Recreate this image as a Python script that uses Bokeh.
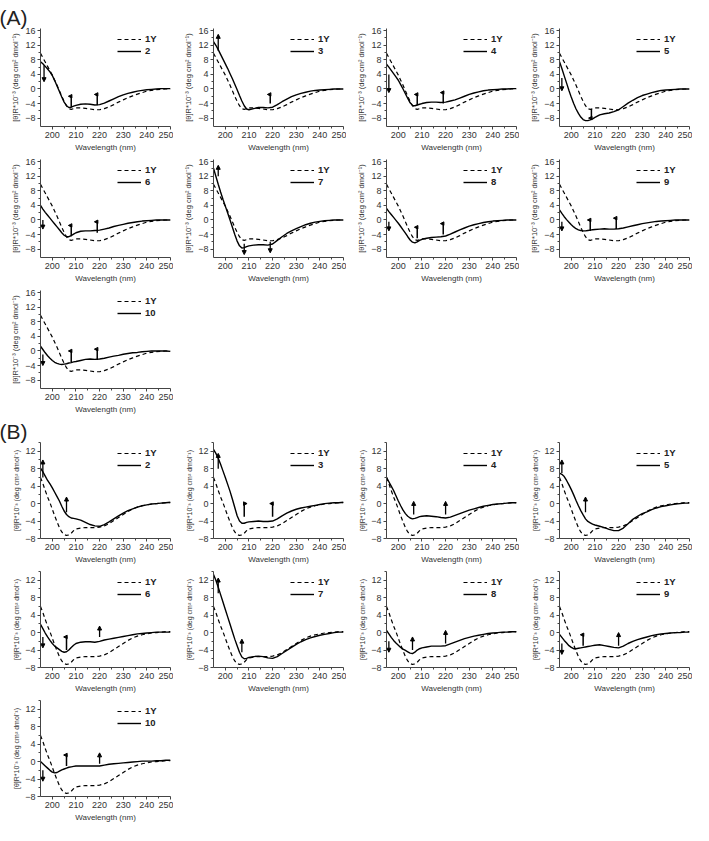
from bokeh.plotting import figure
from bokeh.layouts import column, row
from bokeh.models import Legend, LegendItem, Range1d, FixedTicker, Arrow, NormalHead
from bokeh.embed import file_html
from bokeh.resources import INLINE

# ---------------- data ----------------
wavelength = [195, 196, 197, 198, 199, 200, 201, 202, 203, 204, 205, 206, 207, 208, 209, 210,
              212, 214, 216, 218, 220, 222, 224, 226, 228, 230, 232, 234, 236, 238, 240, 242,
              244, 246, 248, 250]

# reference peptide 1Y, set (A)
ref_A = [9.8, 8.6, 7.4, 6.2, 5.0, 3.8, 2.4, 1.0, -0.5, -2.0, -3.4, -4.6, -5.4, -5.6, -5.4, -5.2,
         -5.2, -5.3, -5.5, -5.7, -5.7, -5.4, -4.9, -4.3, -3.6, -3.0, -2.4, -1.9, -1.4, -1.0, -0.6, -0.4,
         -0.2, -0.1, 0.0, 0.0]
# reference peptide 1Y, set (B)
ref_B = [6.0, 4.6, 3.0, 1.5, 0.2, -1.3, -2.8, -4.2, -5.5, -6.5, -7.1, -7.3, -7.2, -6.8, -6.2, -5.8,
         -5.6, -5.5, -5.5, -5.5, -5.4, -5.1, -4.6, -3.9, -3.2, -2.5, -1.8, -1.2, -0.8, -0.5, -0.3, -0.1,
         0.0, 0.1, 0.2, 0.2]

a2 = [7.5, 6.9, 6.2, 5.5, 4.7, 3.7, 2.3, 0.8, -0.7, -2.2, -3.6, -4.6, -5.1, -5.0, -4.7, -4.5,
      -4.2, -4.1, -4.2, -4.4, -4.3, -3.9, -3.3, -2.7, -2.1, -1.6, -1.2, -0.9, -0.6, -0.4, -0.2, -0.1,
      0.0, 0.1, 0.1, 0.1]
a3 = [13.0, 12.0, 10.8, 9.5, 8.2, 6.9, 5.6, 4.2, 2.8, 1.3, -0.2, -1.8, -3.3, -4.6, -5.5, -5.7,
      -5.4, -5.1, -5.1, -5.2, -5.0, -4.3, -3.5, -2.8, -2.1, -1.6, -1.2, -0.9, -0.6, -0.4, -0.3, -0.2,
      -0.1, 0.0, 0.0, 0.0]
a4 = [6.8, 6.0, 5.1, 4.2, 3.3, 2.4, 1.2, 0.0, -1.3, -2.6, -3.8, -4.5, -4.6, -4.4, -4.2, -4.0,
      -3.7, -3.6, -3.6, -3.7, -3.6, -3.3, -3.0, -2.5, -2.0, -1.5, -1.1, -0.8, -0.5, -0.3, -0.2, -0.1,
      0.0, 0.0, 0.1, 0.1]
a5 = [7.5, 5.6, 3.6, 1.6, -0.4, -2.3, -4.0, -5.5, -6.7, -7.7, -8.4, -8.7, -8.7, -8.5, -8.2, -7.8,
      -7.1, -6.8, -6.6, -6.2, -5.7, -4.8, -3.9, -3.1, -2.4, -1.8, -1.4, -1.0, -0.7, -0.4, -0.3, -0.2,
      -0.1, 0.0, 0.0, 0.0]
a6 = [4.0, 3.0, 2.1, 1.3, 0.5, -0.3, -1.1, -1.9, -2.7, -3.5, -4.2, -4.6, -4.6, -4.3, -3.9, -3.5,
      -3.1, -3.0, -3.0, -2.9, -2.8, -2.5, -2.2, -1.8, -1.5, -1.2, -0.9, -0.7, -0.5, -0.3, -0.2, -0.1,
      0.0, 0.0, 0.0, 0.0]
a7 = [14.2, 12.0, 9.8, 7.7, 5.7, 3.8, 1.9, 0.0, -2.0, -4.0, -5.8, -7.1, -7.7, -7.6, -7.3, -7.1,
      -6.9, -6.8, -6.8, -6.9, -6.6, -5.6, -4.6, -3.7, -3.0, -2.4, -1.8, -1.3, -0.9, -0.6, -0.4, -0.2,
      -0.1, 0.0, 0.0, 0.0]
a8 = [3.2, 2.3, 1.5, 0.7, -0.1, -0.9, -1.8, -2.7, -3.6, -4.6, -5.5, -6.1, -6.3, -6.0, -5.6, -5.3,
      -5.0, -4.8, -4.7, -4.6, -4.4, -3.9, -3.3, -2.7, -2.2, -1.7, -1.3, -1.0, -0.7, -0.5, -0.3, -0.2,
      -0.1, 0.0, 0.0, 0.0]
a9 = [2.8, 1.8, 0.9, 0.1, -0.6, -1.3, -1.9, -2.4, -2.7, -2.9, -3.0, -3.0, -2.9, -2.8, -2.7, -2.6,
      -2.5, -2.4, -2.5, -2.5, -2.4, -2.2, -1.9, -1.6, -1.3, -1.0, -0.8, -0.6, -0.4, -0.3, -0.2, -0.1,
      0.0, 0.0, 0.0, 0.0]
a10 = [1.3, 0.4, -0.5, -1.3, -2.0, -2.6, -3.1, -3.4, -3.6, -3.7, -3.6, -3.5, -3.3, -3.2, -3.0, -2.9,
       -2.6, -2.3, -2.2, -2.3, -2.2, -2.0, -1.7, -1.4, -1.2, -0.9, -0.7, -0.5, -0.4, -0.2, -0.1, 0.0,
       0.0, 0.0, 0.0, -0.1]

b2 = [8.1, 7.3, 6.3, 5.3, 4.5, 3.6, 2.6, 1.6, 0.6, -0.6, -1.7, -2.5, -3.0, -3.3, -3.4, -3.5,
      -3.8, -4.3, -4.8, -5.1, -5.2, -4.8, -4.2, -3.5, -2.8, -2.2, -1.6, -1.2, -0.8, -0.5, -0.3, -0.1,
      0.0, 0.1, 0.2, 0.3]
b3 = [12.4, 11.5, 10.4, 9.0, 7.5, 6.0, 4.4, 2.8, 1.0, -0.9, -2.8, -4.0, -4.5, -4.5, -4.3, -4.2,
      -4.1, -4.0, -4.1, -4.1, -4.0, -3.5, -2.8, -2.2, -1.7, -1.3, -1.0, -0.8, -0.6, -0.4, -0.2, 0.0,
      0.1, 0.2, 0.2, 0.3]
b4 = [6.0, 5.0, 4.0, 3.0, 1.8, 0.6, -0.5, -1.5, -2.3, -2.9, -3.3, -3.5, -3.4, -3.2, -3.0, -2.9,
      -2.8, -2.9, -3.0, -3.2, -3.3, -3.1, -2.7, -2.3, -1.9, -1.5, -1.2, -0.9, -0.6, -0.4, -0.2, -0.1,
      0.0, 0.1, 0.2, 0.2]
b5 = [7.0, 6.7, 6.2, 5.3, 4.3, 3.2, 2.0, 0.7, -0.5, -1.6, -2.6, -3.5, -4.1, -4.4, -4.7, -4.9,
      -5.2, -5.5, -5.9, -6.2, -6.2, -5.6, -4.6, -3.6, -2.9, -2.3, -1.9, -1.4, -1.0, -0.7, -0.5, -0.3,
      -0.1, 0.0, 0.1, 0.1]
b6 = [1.9, 0.9, -0.1, -1.0, -1.8, -2.5, -3.1, -3.5, -3.9, -4.3, -4.5, -4.4, -4.0, -3.4, -2.9, -2.5,
      -2.2, -2.1, -2.1, -2.2, -2.0, -1.7, -1.5, -1.3, -1.1, -0.9, -0.7, -0.5, -0.3, -0.2, -0.1, 0.0,
      0.1, 0.1, 0.1, 0.1]
b7 = [13.3, 12.0, 10.4, 8.7, 7.0, 5.3, 3.6, 1.9, 0.2, -1.5, -3.0, -4.5, -5.6, -6.0, -5.9, -5.7,
      -5.5, -5.4, -5.5, -5.8, -5.9, -5.5, -4.8, -4.1, -3.4, -2.7, -2.1, -1.6, -1.2, -0.9, -0.6, -0.4,
      -0.2, 0.0, 0.1, 0.1]
b8 = [0.5, -0.3, -1.1, -1.8, -2.4, -2.9, -3.4, -3.8, -4.1, -4.4, -4.7, -4.8, -4.5, -4.0, -3.7, -3.5,
      -3.3, -3.1, -3.1, -3.1, -3.0, -2.6, -2.2, -1.8, -1.4, -1.1, -0.8, -0.6, -0.4, -0.2, -0.1, 0.0,
      0.1, 0.1, 0.2, 0.2]
b9 = [-0.4, -1.1, -1.8, -2.4, -3.0, -3.4, -3.7, -3.7, -3.6, -3.5, -3.4, -3.3, -3.2, -3.1, -3.0, -2.9,
      -2.8, -3.0, -3.2, -3.4, -3.5, -3.1, -2.5, -2.0, -1.6, -1.3, -1.0, -0.7, -0.5, -0.3, -0.2, -0.1,
      0.0, 0.0, 0.1, 0.1]
b10 = [0.0, -0.5, -1.0, -1.5, -2.0, -2.4, -2.6, -2.5, -2.2, -1.9, -1.7, -1.5, -1.3, -1.2, -1.1, -1.0,
       -1.0, -1.0, -1.0, -1.0, -1.0, -0.8, -0.6, -0.5, -0.4, -0.3, -0.2, -0.1, 0.0, 0.1, 0.1, 0.1,
       0.2, 0.2, 0.3, 0.3]

# arrow markers: (wavelength, value from, value to, kind)
arrows_a2 = [(196.5, 6.5, 2.0, "straight"), (208, -5.0, -2.0, "hookL"), (219, -4.5, -1.5, "hookL")]
arrows_a3 = [(197, 10.5, 15.0, "straight"), (219, -4.0, -1.5, "hookL")]
arrows_a4 = [(196, 4.0, -1.0, "straight"), (208, -4.5, -1.5, "hookL"), (219, -4.0, -1.0, "hookL")]
arrows_a5 = [(196, 3.0, -0.5, "straight"), (208.5, -5.5, -8.0, "hookL")]
arrows_a6 = [(196, 0.0, -2.5, "straight"), (208, -4.5, -1.5, "hookL"), (219, -3.5, -0.5, "hookL")]
arrows_a7 = [(197, 12.0, 15.0, "straight"), (208, -6.5, -9.5, "straight"), (219, -6.0, -9.0, "straight")]
arrows_a8 = [(196, -0.5, -3.0, "straight"), (208, -5.0, -2.0, "hookL"), (219, -4.0, -1.0, "hookL")]
arrows_a9 = [(196, -0.5, -3.0, "straight"), (208, -3.0, 0.0, "hookL"), (219, -2.5, 0.5, "hookL")]
arrows_a10 = [(196, -1.0, -4.0, "straight"), (208, -3.0, 0.0, "hookL"), (219, -2.5, 0.5, "hookL")]

arrows_b2 = [(196, 6.0, 10.0, "straight"), (206, -2.0, 1.5, "straight")]
arrows_b3 = [(197, 8.0, 11.5, "straight"), (208, -3.0, 0.0, "hookR"), (220, -3.0, 0.0, "hookL")]
arrows_b4 = [(206.5, -2.5, 0.5, "straight"), (220, -2.5, 0.5, "straight")]
arrows_b5 = [(196, 7.0, 10.0, "straight"), (206, -2.0, 1.5, "straight")]
arrows_b6 = [(196, -1.0, -3.5, "straight"), (206, -4.0, -1.0, "hookL"), (220, -1.0, 1.5, "straight")]
arrows_b7 = [(197, 9.0, 12.5, "straight"), (207, -4.5, -1.5, "straight")]
arrows_b8 = [(196, -2.0, -4.5, "straight"), (206, -4.0, -1.0, "straight"), (220, -2.5, 0.5, "straight")]
arrows_b9 = [(196, -2.5, -5.0, "straight"), (205, -3.0, -0.5, "hookL"), (220, -3.0, 0.0, "straight")]
arrows_b10 = [(196, -2.0, -4.5, "straight"), (206, -1.0, 1.5, "hookL"), (220, -0.5, 2.0, "straight")]

labels = ["2", "3", "4", "5", "6", "7", "8", "9", "10"]
set_A = [a2, a3, a4, a5, a6, a7, a8, a9, a10]
set_B = [b2, b3, b4, b5, b6, b7, b8, b9, b10]
arrows_A = [arrows_a2, arrows_a3, arrows_a4, arrows_a5, arrows_a6, arrows_a7, arrows_a8, arrows_a9, arrows_a10]
arrows_B = [arrows_b2, arrows_b3, arrows_b4, arrows_b5, arrows_b6, arrows_b7, arrows_b8, arrows_b9, arrows_b10]

x_ticks = [200, 210, 220, 230, 240, 250]
y_ticks_A = [-8, -4, 0, 4, 8, 12, 16]
y_ticks_B = [-8, -4, 0, 4, 8, 12]

FONT = "Liberation Sans"
W = 173


def panel(sol, ref, lab, arrows, yr, yticks, height, top, ylabel, ylab_size, corner=None):
    p = figure(width=W, height=height, x_range=Range1d(195, 250), y_range=Range1d(*yr),
               output_backend="svg", toolbar_location=None,
               min_border_left=40, min_border_right=3, min_border_top=top, min_border_bottom=24)
    p.outline_line_color = None
    p.xgrid.visible = False
    p.ygrid.visible = False
    for ax in (p.xaxis[0], p.yaxis[0]):
        ax.major_label_text_font = FONT
        ax.major_label_text_font_size = "9px"
        ax.major_label_text_color = "#333333"
        ax.axis_label_text_font = FONT
        ax.axis_label_text_font_style = "normal"
        ax.axis_label_text_color = "#333333"
        ax.axis_line_color = "#444444"
        ax.major_tick_line_color = "#444444"
        ax.minor_tick_line_color = "#444444"
        ax.major_tick_in = 0
        ax.major_tick_out = 3
        ax.minor_tick_in = 0
        ax.minor_tick_out = 2
        ax.major_label_standoff = 2
    p.xaxis.ticker = FixedTicker(ticks=x_ticks, minor_ticks=[205, 215, 225, 235, 245])
    p.yaxis.ticker = FixedTicker(ticks=yticks, minor_ticks=[t + 2 for t in yticks])
    p.xaxis.axis_label = "Wavelength (nm)"
    p.xaxis.axis_label_text_font_size = "8px"
    p.xaxis.axis_label_standoff = 2
    p.yaxis.axis_label = ylabel
    p.yaxis.axis_label_text_font_size = ylab_size
    p.yaxis.axis_label_standoff = 2

    r_ref = p.line(wavelength, ref, line_color="black", line_width=1.2, line_dash="4 3")
    r_sol = p.line(wavelength, sol, line_color="black", line_width=1.4)

    for (x, y0, y1, kind) in arrows:
        if kind == "straight":
            p.add_layout(Arrow(end=NormalHead(size=4, line_color="black", fill_color="black"),
                               x_start=x, y_start=y0, x_end=x, y_end=y1,
                               line_width=1.3, line_color="black"))
        else:
            d = -1.2 if kind == "hookL" else 1.2
            p.segment(x0=[x], y0=[y0], x1=[x], y1=[y1], line_width=1.5, line_color="black")
            p.add_layout(Arrow(end=NormalHead(size=3.5, line_color="black", fill_color="black"),
                               x_start=x, y_start=y1, x_end=x + d, y_end=y1,
                               line_width=1.3, line_color="black"))

    leg = Legend(items=[LegendItem(label="1Y", renderers=[r_ref]),
                        LegendItem(label=lab, renderers=[r_sol])],
                 location="top_right", background_fill_alpha=0, border_line_alpha=0,
                 label_text_font=FONT, label_text_font_style="bold", label_text_font_size="9.5px",
                 label_text_color="#222222",
                 glyph_width=24, glyph_height=8, label_height=8, spacing=1, padding=2, margin=3,
                 label_standoff=4)
    p.add_layout(leg)

    if corner is not None:
        p.title.text = corner
        p.title.align = "left"
        p.title.offset = -41
        p.title.text_font = FONT
        p.title.text_font_size = "21px"
        p.title.text_font_style = "normal"
        p.title.text_color = "#222222"
        p.title.standoff = 0
    return p


ylab_A = "[θ]R*10⁻³ (deg cm² dmol⁻¹)"
ylab_B = "[θ]R*10⁻³ (deg cm² dmol⁻¹)"

yr_A = (-10.3, 16.6)
yr_B = (-8.0, 14.0)

rows = []
heights_A = [154, 131, 131]
tops_A = [28, 5, 5]
heights_B = [150, 129, 129]
tops_B = [26, 5, 5]

for r in range(3):
    figs = []
    for c in range(4):
        i = r * 4 + c
        if i >= len(labels):
            break
        corner = "(A)" if i == 0 else None
        figs.append(panel(set_A[i], ref_A, labels[i], arrows_A[i], yr_A, y_ticks_A,
                          heights_A[r], tops_A[r], ylab_A, "7.5px", corner))
    rows.append(row(*figs))
for r in range(3):
    figs = []
    for c in range(4):
        i = r * 4 + c
        if i >= len(labels):
            break
        corner = "(B)" if i == 0 else None
        figs.append(panel(set_B[i], ref_B, labels[i], arrows_B[i], yr_B, y_ticks_B,
                          heights_B[r], tops_B[r], ylab_B, "7px", corner))
    rows.append(row(*figs))

layout = column(*rows)
open("out.html", "w").write(file_html(layout, INLINE))
